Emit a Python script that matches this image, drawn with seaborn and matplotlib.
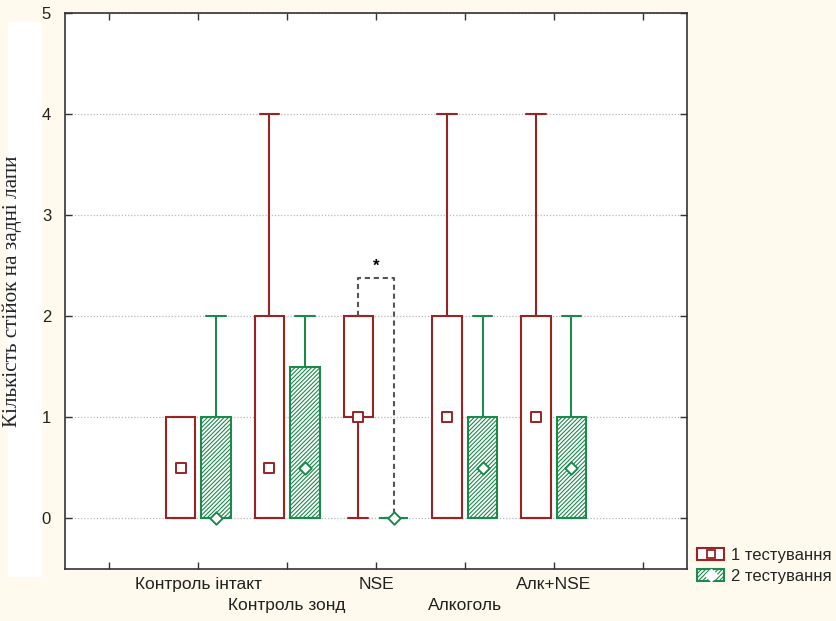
import matplotlib
matplotlib.use("Agg")
import matplotlib.pyplot as plt
from matplotlib.patches import Patch, Rectangle
from matplotlib.lines import Line2D
from matplotlib import font_manager
import numpy as np
import pandas as pd
import seaborn as sns

# ==================== ДАНІ ====================
groups = ['Контроль інтакт', 'Контроль зонд', 'NSE', 'Алкоголь', 'Алк+NSE']
series = ['1 тестування', '2 тестування']

# 1 тестування
t1_min = [0, 0, 0, 0, 0]
t1_q1 = [0, 0, 1, 0, 0]
t1_med = [0.5, 0.5, 1, 1, 1]
t1_q3 = [1, 2, 2, 2, 2]
t1_max = [1, 4, 2, 4, 4]

# 2 тестування
t2_min = [0, 0, 0, 0, 0]
t2_q1 = [0, 0, 0, 0, 0]
t2_med = [0, 0.5, 0, 0.5, 0.5]
t2_q3 = [1, 1.5, 0, 1, 1]
t2_max = [2, 2, 0, 2, 2]

y_ticks = [0, 1, 2, 3, 4, 5]
sig_group = 'NSE'
sig_height = 2.38

# ==================== СТИЛЬ ====================
RED = '#9a2323'
GREEN = '#1c8a4c'
BG = '#fff9ee'
OFFSET = 0.2
BOX_W = 0.33
CAP_W = 0.22

sns.set_style("ticks")
narrow = 'Liberation Sans Narrow'
names = {f.name for f in font_manager.fontManager.ttflist}
if narrow not in names:
    narrow = 'Liberation Sans'
plt.rcParams['font.family'] = ['Liberation Sans', 'DejaVu Sans']
plt.rcParams['hatch.linewidth'] = 0.8

fig = plt.figure(figsize=(8.37, 6.21), dpi=100, facecolor=BG)
fig.patches.append(Rectangle((8 / 837, 1 - 577 / 621), 34 / 837, 555 / 621,
                             transform=fig.transFigure, facecolor='white',
                             edgecolor='none', zorder=-5))
ax = fig.add_axes([65 / 837, 1 - 569 / 621, 622 / 837, 556 / 621])
ax.set_facecolor('white')

def make_stats(mins, q1s, meds, q3s, maxs):
    return [dict(whislo=a, q1=b, med=c, q3=d, whishi=e, fliers=[])
            for a, b, c, d, e in zip(mins, q1s, meds, q3s, maxs)]

pos = np.arange(1, len(groups) + 1)
specs = [
    (make_stats(t1_min, t1_q1, t1_med, t1_q3, t1_max), pos - OFFSET, RED, None),
    (make_stats(t2_min, t2_q1, t2_med, t2_q3, t2_max), pos + OFFSET, GREEN, '////////'),
]
for stats, p, col, hatch in specs:
    ax.bxp(stats, positions=p, widths=BOX_W, patch_artist=True,
           showfliers=False, capwidths=CAP_W,
           boxprops=dict(facecolor='white', edgecolor=col, linewidth=1.5, hatch=hatch),
           whiskerprops=dict(color=col, linewidth=1.5),
           capprops=dict(color=col, linewidth=1.5),
           medianprops=dict(linewidth=0), zorder=3)

# медіани маркерами
med_df = pd.DataFrame({
    'x': np.concatenate([pos - OFFSET, pos + OFFSET]),
    'y': t1_med + t2_med,
    'series': [series[0]] * len(groups) + [series[1]] * len(groups),
})
for name, col, mk, size in [(series[0], RED, 's', 50), (series[1], GREEN, 'D', 40)]:
    sns.scatterplot(data=med_df[med_df['series'] == name], x='x', y='y',
                    marker=mk, s=size, facecolor='white', edgecolor=col,
                    linewidth=1.4, legend=False, ax=ax, zorder=5)

# значущість
gi = groups.index(sig_group)
xl, xr = pos[gi] - OFFSET, pos[gi] + OFFSET
ax.plot([xl, xl, xr, xr], [t1_q3[gi], sig_height, sig_height, t2_q3[gi]],
        color='#555555', lw=1.5, ls=(0, (2.5, 1.8)), zorder=4)
ax.text(pos[gi], sig_height + 0.04, '*', ha='center', va='bottom',
        fontsize=12, fontweight='bold', color='black')

# осі
ax.set_xlim(-0.5, len(groups) + 1.5)
ax.set_ylim(-0.5, 5)
ax.set_yticks(y_ticks)
ax.set_yticklabels([str(v) for v in y_ticks], fontsize=12, color='#222222')
ax.set_xticks(np.arange(0, len(groups) + 2))
ax.set_xticklabels([])
for i, g in enumerate(groups):
    ax.text(pos[i], -0.58 if i % 2 == 0 else -0.79, g, ha='center', va='top',
            fontsize=12.5, family=[narrow, 'DejaVu Sans'], color='#222222')
ax.tick_params(direction='in', length=5, width=1, top=True, right=True,
               color='#333333', pad=10)
ax.tick_params(axis='x', pad=0)
for s in ax.spines.values():
    s.set_color('#333333')
    s.set_linewidth(1.2)
ax.yaxis.grid(True, ls=(0, (1, 1.5)), color='#bbbbbb', lw=0.9)
ax.set_axisbelow(True)
ax.set_xlabel('')
ax.set_ylabel('Кількість стійок на задні лапи', fontsize=15.3,
              family=['Liberation Serif', 'DejaVu Serif'], labelpad=14)

# легенда
h1 = (Patch(facecolor='white', edgecolor=RED, linewidth=1.5),
      Line2D([], [], marker='s', ms=6, mfc='white', mec=RED, mew=1.3, ls='none'))
h2 = (Patch(facecolor='white', edgecolor=GREEN, linewidth=1.5, hatch='////////'),
      Line2D([], [], marker='D', ms=6, mfc='white', mec='white', ls='none'))
fig.legend([h1, h2], series, loc='lower left',
           bbox_to_anchor=(697 / 837, 1 - 584 / 621), frameon=False,
           fontsize=12, handlelength=1.65, handleheight=0.75, handletextpad=0.4,
           labelspacing=0.35, borderpad=0, borderaxespad=0)

fig.savefig('out.png', dpi=100, facecolor=BG)
